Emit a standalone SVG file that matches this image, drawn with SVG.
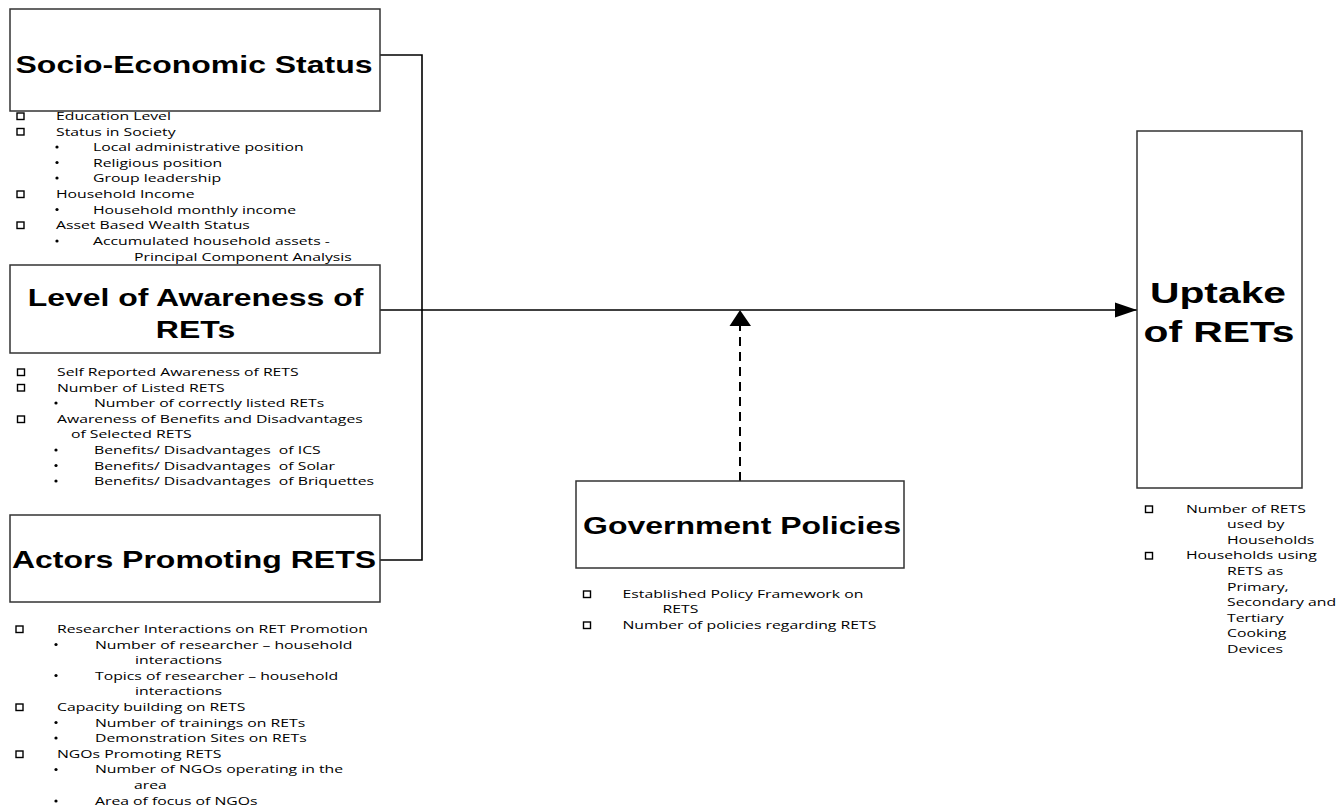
<svg xmlns="http://www.w3.org/2000/svg" width="1342" height="812" viewBox="0 0 1342 812">
<style>
.box{fill:#fff;stroke:#333;stroke-width:1.5}
.ttl{font-family:"Liberation Sans",Arial,sans-serif;font-weight:bold;font-size:23.5px;fill:#000;text-anchor:middle}
.big{font-size:30px}
.li{font-family:"Open Sans","Liberation Sans",sans-serif;font-size:11.6px;fill:#000}
.sq{fill:none;stroke:#000;stroke-width:1.4}
.bu{fill:#000}
.con{fill:none;stroke:#000;stroke-width:1.6}
.dash{fill:none;stroke:#000;stroke-width:2;stroke-dasharray:9 6}
</style>
<defs>
<marker id="arr" markerUnits="userSpaceOnUse" markerWidth="24" markerHeight="18" refX="22" refY="8" orient="auto">
<path d="M0,0.5 L22,8 L0,15.5 Z" fill="#000"/>
</marker>
</defs>
<rect width="1342" height="812" fill="#fff"/>

<g id="connectors">
<path class="con" d="M380,55 H422 V560 H380"/>
<path class="con" d="M380,310 H1137" marker-end="url(#arr)"/>
<path class="dash" d="M740,481 V326"/>
<path d="M729.5,326 L740,310 L751,326 Z" fill="#000"/>
</g>

<g id="socio">
<rect class="box" x="10" y="9" width="370" height="102"/>
<text class="ttl" transform="translate(194,73) scale(1.36,1)">Socio-Economic Status</text>
<rect class="sq" x="17" y="113" width="7" height="6.5"/>
<text class="li" transform="translate(56,120) scale(1.36,1)">Education Level</text>
<rect class="sq" x="17" y="128.5" width="7" height="6.5"/>
<text class="li" transform="translate(56,135.6) scale(1.36,1)">Status in Society</text>
<circle class="bu" cx="57" cy="147" r="1.6"/>
<text class="li" transform="translate(93,151.2) scale(1.36,1)">Local administrative position</text>
<circle class="bu" cx="57" cy="162.5" r="1.6"/>
<text class="li" transform="translate(93,166.8) scale(1.36,1)">Religious position</text>
<circle class="bu" cx="57" cy="178" r="1.6"/>
<text class="li" transform="translate(93,182.4) scale(1.36,1)">Group leadership</text>
<rect class="sq" x="17" y="191" width="7" height="6.5"/>
<text class="li" transform="translate(56,198) scale(1.36,1)">Household Income</text>
<circle class="bu" cx="57" cy="209.5" r="1.6"/>
<text class="li" transform="translate(93,213.6) scale(1.36,1)">Household monthly income</text>
<rect class="sq" x="17" y="222" width="7" height="6.5"/>
<text class="li" transform="translate(56,229.2) scale(1.36,1)">Asset Based Wealth Status</text>
<circle class="bu" cx="57" cy="241" r="1.6"/>
<text class="li" transform="translate(93,244.8) scale(1.36,1)">Accumulated household assets -</text>
<text class="li" transform="translate(134,260.5) scale(1.36,1)">Principal Component Analysis</text>
</g>

<g id="awareness">
<rect class="box" x="10" y="265" width="370" height="88"/>
<text class="ttl" transform="translate(195.5,306) scale(1.36,1)">Level of Awareness of</text>
<text class="ttl" transform="translate(195.5,338) scale(1.36,1)">RETs</text>
<rect class="sq" x="17.5" y="369" width="7" height="6.5"/>
<text class="li" transform="translate(57,376) scale(1.36,1)">Self Reported Awareness of RETS</text>
<rect class="sq" x="17.5" y="384.5" width="7" height="6.5"/>
<text class="li" transform="translate(57,391.6) scale(1.36,1)">Number of Listed RETS</text>
<circle class="bu" cx="56" cy="403" r="1.6"/>
<text class="li" transform="translate(94,407.2) scale(1.36,1)">Number of correctly listed RETs</text>
<rect class="sq" x="17.5" y="416" width="7" height="6.5"/>
<text class="li" transform="translate(57,422.8) scale(1.36,1)">Awareness of Benefits and Disadvantages</text>
<text class="li" transform="translate(71,438.4) scale(1.36,1)">of Selected RETS</text>
<circle class="bu" cx="56" cy="450" r="1.6"/>
<text class="li" xml:space="preserve" transform="translate(94,454) scale(1.36,1)">Benefits/ Disadvantages  of ICS</text>
<circle class="bu" cx="56" cy="465.5" r="1.6"/>
<text class="li" xml:space="preserve" transform="translate(94,469.6) scale(1.36,1)">Benefits/ Disadvantages  of Solar</text>
<circle class="bu" cx="56" cy="481" r="1.6"/>
<text class="li" xml:space="preserve" transform="translate(94,485.2) scale(1.36,1)">Benefits/ Disadvantages  of Briquettes</text>
</g>

<g id="actors">
<rect class="box" x="10" y="515" width="370" height="87"/>
<text class="ttl" transform="translate(194,568) scale(1.36,1)">Actors Promoting RETS</text>
<rect class="sq" x="16" y="626" width="7" height="6.5"/>
<text class="li" transform="translate(57,633) scale(1.36,1)">Researcher Interactions on RET Promotion</text>
<circle class="bu" cx="56" cy="644.5" r="1.6"/>
<text class="li" transform="translate(95,648.6) scale(1.36,1)">Number of researcher – household</text>
<text class="li" transform="translate(135,664.2) scale(1.36,1)">interactions</text>
<circle class="bu" cx="56" cy="675.5" r="1.6"/>
<text class="li" transform="translate(95,679.8) scale(1.36,1)">Topics of researcher – household</text>
<text class="li" transform="translate(135,695.4) scale(1.36,1)">interactions</text>
<rect class="sq" x="16" y="704" width="7" height="6.5"/>
<text class="li" transform="translate(57,711) scale(1.36,1)">Capacity building on RETS</text>
<circle class="bu" cx="56" cy="722.5" r="1.6"/>
<text class="li" transform="translate(95,726.6) scale(1.36,1)">Number of trainings on RETs</text>
<circle class="bu" cx="56" cy="738" r="1.6"/>
<text class="li" transform="translate(95,742.2) scale(1.36,1)">Demonstration Sites on RETs</text>
<rect class="sq" x="16" y="751" width="7" height="6.5"/>
<text class="li" transform="translate(57,757.8) scale(1.36,1)">NGOs Promoting RETS</text>
<circle class="bu" cx="56" cy="769.5" r="1.6"/>
<text class="li" transform="translate(95,773.4) scale(1.36,1)">Number of NGOs operating in the</text>
<text class="li" transform="translate(134,789) scale(1.36,1)">area</text>
<circle class="bu" cx="56" cy="801" r="1.6"/>
<text class="li" transform="translate(95,805) scale(1.36,1)">Area of focus of NGOs</text>
</g>

<g id="government">
<rect class="box" x="576" y="481" width="328" height="87"/>
<text class="ttl" transform="translate(742,534) scale(1.36,1)">Government Policies</text>
<rect class="sq" x="583.5" y="591" width="7" height="6.5"/>
<text class="li" transform="translate(622.5,598) scale(1.36,1)">Established Policy Framework on</text>
<text class="li" transform="translate(662.5,613) scale(1.36,1)">RETS</text>
<rect class="sq" x="583.5" y="622" width="7" height="6.5"/>
<text class="li" transform="translate(622.5,629) scale(1.36,1)">Number of policies regarding RETS</text>
</g>

<g id="uptake">
<rect class="box" x="1137" y="131" width="165" height="357"/>
<text class="ttl big" transform="translate(1218,303) scale(1.36,1)">Uptake</text>
<text class="ttl big" transform="translate(1219,342) scale(1.36,1)">of RETs</text>
<rect class="sq" x="1145.5" y="506" width="7" height="6.5"/>
<text class="li" transform="translate(1186,513) scale(1.36,1)">Number of RETS</text>
<text class="li" transform="translate(1227,528.4) scale(1.36,1)">used by</text>
<text class="li" transform="translate(1227,544) scale(1.36,1)">Households</text>
<rect class="sq" x="1145.5" y="552.5" width="7" height="6.5"/>
<text class="li" transform="translate(1186,559.4) scale(1.36,1)">Households using</text>
<text class="li" transform="translate(1227,575) scale(1.36,1)">RETS as</text>
<text class="li" transform="translate(1227,590.6) scale(1.36,1)">Primary,</text>
<text class="li" transform="translate(1227,606.2) scale(1.36,1)">Secondary and</text>
<text class="li" transform="translate(1227,621.8) scale(1.36,1)">Tertiary</text>
<text class="li" transform="translate(1227,637.4) scale(1.36,1)">Cooking</text>
<text class="li" transform="translate(1227,653) scale(1.36,1)">Devices</text>
</g>
</svg>
